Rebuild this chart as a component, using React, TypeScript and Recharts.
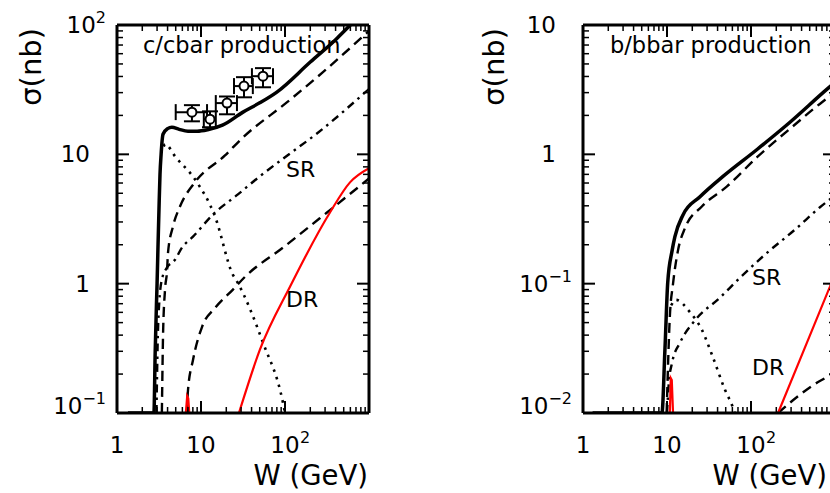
import React from 'react';
import { ComposedChart, Line, Scatter, XAxis, YAxis, ErrorBar } from 'recharts';

type Pt = [number, number];

// ---- c/cbar panel (W in GeV, sigma in nb) ----
const cTotal: Pt[] = [
  [1.35, 0.1], [2.75, 0.1], [2.85, 0.3], [2.95, 0.7], [3.0, 1.0], [3.08, 2.0], [3.16, 3.75],
  [3.25, 7], [3.35, 10], [3.53, 14.3], [4.0, 15.8], [4.5, 16.2], [5.5, 15.6], [7, 15.1],
  [9, 15.1], [12, 15.5], [18, 16.8], [31.6, 21.2], [50, 25], [80, 30.3], [200, 51.7],
  [400, 77], [600, 100], [1000, 137],
];
const cDashedUpper: Pt[] = [
  [3.42, 0.1], [3.45, 0.15], [3.53, 0.39], [3.73, 0.9], [3.94, 1.25], [4.05, 1.74],
  [4.64, 2.77], [5.62, 3.95], [8.5, 6.1], [19.3, 9.8], [31.6, 13.5], [106, 25.3],
  [283, 43.2], [1000, 90],
];
const cDashedLower: Pt[] = [
  [6.8, 0.1], [7.0, 0.15], [8.03, 0.257], [10.3, 0.464], [14.7, 0.65], [24, 0.9],
  [33.4, 1.13], [94.6, 1.9], [316, 3.55], [1000, 6.5],
];
const cSR: Pt[] = [
  [2.95, 0.1], [3.05, 0.35], [3.2, 0.75], [3.45, 1.1], [3.9, 1.32], [4.9, 1.53], [5.94, 1.9],
  [8.03, 2.31], [13.9, 3.43], [27.5, 4.9], [50, 6.75], [100, 9.5], [240, 14.5], [1000, 32],
];
const cDotted: Pt[] = [
  [3.6, 11.5], [3.73, 12], [5, 9.5], [8.48, 6.4], [14.7, 3.3], [24, 1.17], [26.8, 1.04],
  [54.7, 0.35], [94.6, 0.12], [100, 0.1],
];
const cRedLow: Pt[] = [[3.0, 0.1], [6.6, 0.1], [6.85, 0.135], [7.05, 0.13], [7.25, 0.1]];
const cDR: Pt[] = [[28.3, 0.1], [50.4, 0.31], [115, 0.95], [343, 3.55], [594, 6.07], [1000, 7.8]];

// measured points with errors
const cDataW = [7.8, 12.8, 20.4, 32.5, 54.7];
const cDataWLow = [5.0, 10.8, 15, 24.7, 40.4];
const cDataWHigh = [11.8, 15, 26.8, 41.4, 72];
const cDataSigma = [21.2, 18.7, 24.9, 33.7, 40.2];
const cDataSigmaLow = [18, 16.2, 20.4, 27.6, 33];
const cDataSigmaHigh = [24, 21.5, 28, 39.5, 46.4];

// ---- b/bbar panel ----
const bTotal: Pt[] = [
  [1.3, 0.01], [8.7, 0.01], [9.45, 0.031], [10.2, 0.102], [11.5, 0.18], [12.4, 0.23],
  [15.5, 0.34], [24.7, 0.47], [46.4, 0.675], [118, 1.09], [291, 1.77], [804, 3.19], [1000, 3.6],
];
const bDashedUpper: Pt[] = [
  [9.9, 0.01], [10.8, 0.055], [11.8, 0.1], [13.5, 0.18], [16.4, 0.27], [26, 0.395],
  [51.8, 0.565], [118, 0.95], [316, 1.65], [700, 2.53], [1000, 3.0],
];
const bSR: Pt[] = [
  [10.0, 0.01], [10.5, 0.017], [11.5, 0.0245], [14.3, 0.035], [21.5, 0.052], [42.8, 0.078],
  [73.8, 0.111], [147, 0.168], [353, 0.27], [662, 0.39], [1000, 0.48],
];
const bDotted: Pt[] = [
  [11.2, 0.068], [12.8, 0.075], [18.8, 0.06], [26, 0.044], [35.2, 0.027], [49, 0.0151],
  [61, 0.011], [64, 0.01],
];
const bRedLow: Pt[] = [[9.5, 0.01], [10.8, 0.01], [11.1, 0.0186], [11.4, 0.018], [11.8, 0.01], [12.4, 0.01]];
const bDR: Pt[] = [[210, 0.01], [871, 0.095], [1000, 0.12]];
const bDashedLower: Pt[] = [[210, 0.01], [353, 0.0133], [547, 0.0164], [871, 0.0197], [1000, 0.021]];

// ---- ticks ----
const wTicks = [1, 2, 3, 4, 5, 6, 7, 8, 9, 10, 20, 30, 40, 50, 60, 70, 80, 90, 100, 200, 300, 400, 500, 600, 700, 800, 900, 1000];
const wLabels: Record<string, [string, string]> = { '1': ['1', ''], '10': ['10', ''], '100': ['10', '2'] };
const cSigmaTicks = [0.1, 0.2, 0.3, 0.4, 0.5, 0.6, 0.7, 0.8, 0.9, 1, 2, 3, 4, 5, 6, 7, 8, 9, 10, 20, 30, 40, 50, 60, 70, 80, 90, 100];
const cSigmaLabels: Record<string, [string, string]> = { '0.1': ['10', '\u22121'], '1': ['1', ''], '10': ['10', ''], '100': ['10', '2'] };
const bSigmaTicks = [0.01, 0.02, 0.03, 0.04, 0.05, 0.06, 0.07, 0.08, 0.09, 0.1, 0.2, 0.3, 0.4, 0.5, 0.6, 0.7, 0.8, 0.9, 1, 2, 3, 4, 5, 6, 7, 8, 9, 10];
const bSigmaLabels: Record<string, [string, string]> = { '0.01': ['10', '\u22122'], '0.1': ['10', '\u22121'], '1': ['1', ''], '10': ['10', ''] };

const FONT = '"DejaVu Sans", Verdana, sans-serif';
const TICK_FS = 23;
const SUP_FS = 16;

const rows = (pts: Pt[]) => pts.map(([x, y]) => ({ x, y }));

const solid = { stroke: '#000', strokeWidth: 3.5 };
const dashed = { stroke: '#000', strokeWidth: 2.4, strokeDasharray: '10 6' };
const dashDot = { stroke: '#000', strokeWidth: 2.4, strokeDasharray: '8 5 2.5 5' };
const dotted = { stroke: '#000', strokeWidth: 2.6, strokeDasharray: '2.5 5.5' };
const red = { stroke: '#ff0000', strokeWidth: 2.2 };

const FrameTick = (props: any) => {
  const { x, y, payload, side, labels, minValue } = props;
  const v = payload.value;
  const lg = Math.log10(v);
  const major = Math.abs(lg - Math.round(lg)) < 1e-6;
  const len = major ? 12 : 6;
  let l = { x1: x, y1: y, x2: x, y2: y };
  if (side === 'left') l = { x1: x, y1: y, x2: x + len, y2: y };
  if (side === 'right') l = { x1: x, y1: y, x2: x - len, y2: y };
  if (side === 'bottom') l = { x1: x, y1: y, x2: x, y2: y - len };
  if (side === 'top') l = { x1: x, y1: y, x2: x, y2: y + len };
  const lab = labels ? labels[String(v)] : undefined;
  let text: React.ReactNode = null;
  if (lab && side === 'left') {
    const by = Math.abs(v - minValue) < 1e-9 ? y + 1 : y + 8;
    text = lab[1] ? (
      <text x={x - 11} y={by} textAnchor="end" fontSize={TICK_FS} fontFamily={FONT} fill="#000">
        <tspan>{lab[0]}</tspan>
        <tspan dy={-10} fontSize={SUP_FS}>{lab[1]}</tspan>
      </text>
    ) : (
      <text x={x - 27} y={by} textAnchor="end" fontSize={TICK_FS} fontFamily={FONT} fill="#000">{lab[0]}</text>
    );
  }
  if (lab && side === 'bottom') {
    text = (
      <g>
        <text x={x} y={y + 40} textAnchor="middle" fontSize={TICK_FS} fontFamily={FONT} fill="#000">{lab[0]}</text>
        {lab[1] ? (
          <text x={x + 15} y={y + 30} textAnchor="start" fontSize={SUP_FS} fontFamily={FONT} fill="#000">{lab[1]}</text>
        ) : null}
      </g>
    );
  }
  return (
    <g>
      <line {...l} stroke="#000" strokeWidth={major ? 2 : 1.5} />
      {text}
    </g>
  );
};

interface Curve { pts: Pt[]; style: any; kind?: 'monotone' | 'linear' }

interface PanelProps {
  left: number;
  marginLeft: number;
  marginRight: number;
  yDomain: [number, number];
  yTicks: number[];
  yLabels: Record<string, [string, string]>;
  curves: Curve[];
  points?: any[];
}

const axisLine = { stroke: '#000', strokeWidth: 3 };

// axes get a 1px box (a zero-sized axis is not drawn); margins compensate
const Panel = ({ left, marginLeft, marginRight, yDomain, yTicks, yLabels, curves, points }: PanelProps) => (
  <div style={{ position: 'absolute', left, top: 0 }}>
    <ComposedChart width={440} height={493} margin={{ top: 24, right: marginRight - 1, bottom: 79, left: marginLeft - 1 }}>
      <XAxis xAxisId={0} type="number" dataKey="x" scale="log" domain={[1, 1000]} allowDataOverflow
        ticks={wTicks} interval={0} height={1} tickSize={0} tickMargin={0} tickLine={false} axisLine={axisLine}
        tick={<FrameTick side="bottom" labels={wLabels} />} />
      <XAxis xAxisId="top" orientation="top" type="number" dataKey="x" scale="log" domain={[1, 1000]} allowDataOverflow
        ticks={wTicks} interval={0} height={1} tickSize={0} tickMargin={0} tickLine={false} axisLine={axisLine}
        tick={<FrameTick side="top" />} />
      <YAxis yAxisId={0} type="number" dataKey="y" scale="log" domain={yDomain} allowDataOverflow
        ticks={yTicks} interval={0} width={1} tickSize={0} tickMargin={0} tickLine={false} axisLine={axisLine}
        tick={<FrameTick side="left" labels={yLabels} minValue={yDomain[0]} />} />
      <YAxis yAxisId="right" orientation="right" type="number" dataKey="y" scale="log" domain={yDomain} allowDataOverflow
        ticks={yTicks} interval={0} width={1} tickSize={0} tickMargin={0} tickLine={false} axisLine={axisLine}
        tick={<FrameTick side="right" />} />
      {curves.map((c, i) => (
        <Line key={i} data={rows(c.pts)} dataKey="y" type={c.kind || 'monotone'} dot={false} activeDot={false}
          isAnimationActive={false} {...c.style} />
      ))}
      {points ? (
        <Scatter data={points} dataKey="y" isAnimationActive={false}
          shape={(p: any) => <circle cx={p.cx} cy={p.cy} r={4.5} fill="#fff" stroke="#000" strokeWidth={2} />}>
          <ErrorBar dataKey="ex" direction="x" width={8} stroke="#000" strokeWidth={2} />
          <ErrorBar dataKey="ey" direction="y" width={8} stroke="#000" strokeWidth={2} />
        </Scatter>
      ) : null}
    </ComposedChart>
  </div>
);

const cPoints = cDataW.map((w, i) => ({
  x: w,
  y: cDataSigma[i],
  ex: [w - cDataWLow[i], cDataWHigh[i] - w],
  ey: [cDataSigma[i] - cDataSigmaLow[i], cDataSigmaHigh[i] - cDataSigma[i]],
}));

const cCurves: Curve[] = [
  { pts: cDotted, style: dotted },
  { pts: cSR, style: dashDot },
  { pts: cDashedLower, style: dashed },
  { pts: cDashedUpper, style: dashed },
  { pts: cRedLow, style: red, kind: 'linear' },
  { pts: cDR, style: red },
  { pts: cTotal, style: solid },
];

const bCurves: Curve[] = [
  { pts: bDotted, style: dotted },
  { pts: bSR, style: dashDot },
  { pts: bDashedLower, style: dashed },
  { pts: bDashedUpper, style: dashed },
  { pts: bRedLow, style: red, kind: 'linear' },
  { pts: bDR, style: red, kind: 'linear' },
  { pts: bTotal, style: solid },
];

const T = (p: any) => <text fontFamily={FONT} fill="#000" {...p} />;

export default function App() {
  return (
    <div style={{ position: 'absolute', left: 0, top: 0, width: 830, height: 493, overflow: 'hidden', background: '#fff' }}>
      <Panel left={0} marginLeft={117} marginRight={71} yDomain={[0.1, 100]} yTicks={cSigmaTicks}
        yLabels={cSigmaLabels} curves={cCurves} points={cPoints} />
      <Panel left={440} marginLeft={143} marginRight={45} yDomain={[0.01, 10]} yTicks={bSigmaTicks}
        yLabels={bSigmaLabels} curves={bCurves} />
      <svg width={830} height={493} style={{ position: 'absolute', left: 0, top: 0, pointerEvents: 'none' }}>
        <T x={143} y={53} fontSize={22.5}>c/cbar production</T>
        <T x={286} y={177} fontSize={22}>SR</T>
        <T x={286} y={307} fontSize={22}>DR</T>
        <T x={368} y={485} fontSize={27.5} textAnchor="end">W (GeV)</T>
        <T x={41} y={28} fontSize={29} textAnchor="end" transform="rotate(-90 41 28)">σ(nb)</T>

        <T x={610} y={53} fontSize={22.5}>b/bbar production</T>
        <T x={752} y={285} fontSize={22}>SR</T>
        <T x={752} y={375} fontSize={22}>DR</T>
        <T x={827} y={485} fontSize={27.5} textAnchor="end">W (GeV)</T>
        <T x={504} y={28} fontSize={29} textAnchor="end" transform="rotate(-90 504 28)">σ(nb)</T>
      </svg>
    </div>
  );
}
